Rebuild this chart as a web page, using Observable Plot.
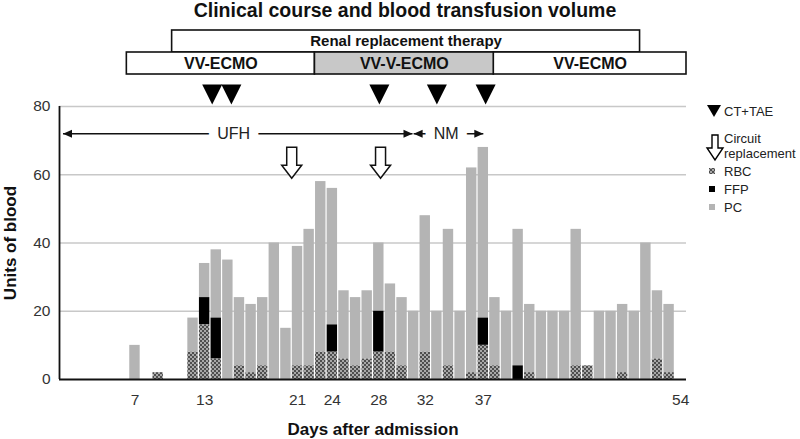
<!DOCTYPE html>
<html><head><meta charset="utf-8">
<script src="https://cdn.jsdelivr.net/npm/d3@7"></script>
<script src="https://cdn.jsdelivr.net/npm/@observablehq/plot@0.6"></script>
<style>
body{margin:0;background:#fff;font-family:"Liberation Sans",Arial,sans-serif;}
#wrap{position:relative;width:800px;height:439px;overflow:hidden;background:#fff}
#title{height:24px;box-sizing:border-box;padding-top:1px;padding-left:10px;text-align:center;font-weight:bold;font-size:19.5px;line-height:19.5px;color:#111;white-space:nowrap}
#header svg,#main svg{display:block}
g[aria-label="y-axis label"] text,g[aria-label="x-axis label"] text{font-weight:bold;font-size:17px;fill:#111}
#legend{position:absolute;left:700px;top:95px}
</style></head>
<body>
<svg width="0" height="0" style="position:absolute">
  <defs>
    <pattern id="rbc" width="4" height="4" patternUnits="userSpaceOnUse">
      <rect width="4" height="4" fill="#a8a8a8"/>
      <rect width="2" height="2" fill="#4e4e4e"/>
      <rect x="2" y="2" width="2" height="2" fill="#4e4e4e"/>
    </pattern>
  </defs>
</svg>
<div id="wrap">
  <div id="title">Clinical course and blood transfusion volume</div>
  <div id="header"></div>
  <div id="main"></div>
  <svg id="legend" width="100" height="125" font-family="Liberation Sans, Arial, sans-serif" font-size="13" fill="#222">
    <polygon points="7,10 21,10 14,22" fill="#000"/>
    <text x="24" y="20.5">CT+TAE</text>
    <polygon points="12,40 18,40 18,53 23,53 15,65 7,53 12,53" fill="#fff" stroke="#000" stroke-width="1.4"/>
    <text x="24" y="48">Circuit</text>
    <text x="24" y="62.5">replacement</text>
    <rect x="9" y="73" width="6" height="6" fill="url(#rbc)"/>
    <text x="24" y="80.5">RBC</text>
    <rect x="9" y="91" width="6" height="6" fill="#000"/>
    <text x="24" y="98.5">FFP</text>
    <rect x="9" y="109" width="6" height="6" fill="#b4b4b4"/>
    <text x="24" y="117">PC</text>
  </svg>
</div>
<script>
// ---- data ----
const days = d3.range(1, 55);
const rbc = [0,0,0,0,0,0,0,0,2,0,0,8,16,6,0,4,2,4,0,0,4,4,8,8,6,4,6,8,8,4,0,8,0,4,0,2,10,4,0,0,2,0,0,0,4,4,0,0,2,0,0,6,2,0];
const ffp = [0,0,0,0,0,0,0,0,0,0,0,0,8,12,0,0,0,0,0,0,0,0,0,8,0,0,0,12,0,0,0,0,0,0,0,0,8,0,0,4,0,0,0,0,0,0,0,0,0,0,0,0,0,0];
const pc  = [0,0,0,0,0,0,10,0,0,0,0,10,10,20,35,20,20,20,40,15,35,40,50,40,20,20,20,20,20,20,20,40,20,40,20,60,50,20,20,40,20,20,20,20,40,0,20,20,20,20,40,20,20,0];
const types = ["RBC", "FFP", "PC"];
const xTicks = [7, 13, 21, 24, 28, 32, 37, 54];
const yTicks = [0, 20, 40, 60, 80];
const ctTaeDays = [13.65, 15.3, 28.05, 33, 37.2];
const circuitDays = [20.5, 28.15];
const ecmoPhases = ["VV-ECMO", "VV-V-ECMO", "VV-ECMO"];
const ecmoStart = [6.3, 22.5, 37.9];
const ecmoEnd = [22.5, 37.9, 54.5];
const rrtLabel = "Renal replacement therapy";
const rrtStart = 10.2, rrtEnd = 50.5;
const anticoagLabels = ["UFH", "NM"];
const anticoagStart = [0.8, 31.0];
const anticoagEnd = [30.9, 37.0];
const anticoagLabelAt = [15.5, 33.8];

// ---- derived tables ----
const series = {RBC: rbc, FFP: ffp, PC: pc};
const rows = [];
days.forEach((day, i) => {
  let base = 0;
  types.forEach(t => {
    const v = series[t][i];
    if (v > 0) rows.push({day, type: t, y1: base, y2: base + v});
    base += v;
  });
});
const ecmo = ecmoPhases.map((p, i) => ({phase: p, start: ecmoStart[i], end: ecmoEnd[i]}));
const rrt = [{label: rrtLabel, start: rrtStart, end: rrtEnd}];
const anticoag = anticoagLabels.map((l, i) => ({label: l, start: anticoagStart[i], end: anticoagEnd[i], at: anticoagLabelAt[i]}));

// ---- symbols ----
const triDown = {draw(c) { c.moveTo(-10, -10); c.lineTo(10, -10); c.lineTo(0, 10); c.closePath(); }};
const blockArrow = {draw(c) { c.moveTo(-5, -15.5); c.lineTo(5, -15.5); c.lineTo(5, 2.5); c.lineTo(10, 2.5); c.lineTo(0, 15.5); c.lineTo(-10, 2.5); c.lineTo(-5, 2.5); c.closePath(); }};
const headL = {draw(c) { c.moveTo(0, 0); c.lineTo(9, -4); c.lineTo(9, 4); c.closePath(); }};
const headR = {draw(c) { c.moveTo(0, 0); c.lineTo(-9, -4); c.lineTo(-9, 4); c.closePath(); }};

const font = "Liberation Sans, Arial, sans-serif";
const xDomain = [0.5, 54.5];

// ---- header (ECMO / RRT) ----
const header = Plot.plot({
  width: 800, height: 56,
  marginLeft: 59, marginRight: 114, marginTop: 6, marginBottom: 6,
  style: {fontFamily: font, background: "white", color: "#111"},
  x: {domain: xDomain, axis: null},
  y: {domain: ["rrt", "ecmo"], axis: null, paddingInner: 0, paddingOuter: 0},
  marks: [
    Plot.barX(rrt, {x1: "start", x2: "end", y: () => "rrt", fill: "white", stroke: "#111", strokeWidth: 1.6}),
    Plot.text(rrt, {x: d => (d.start + d.end) / 2, y: () => "rrt", text: "label", fontWeight: "bold", fontSize: 15}),
    Plot.barX(ecmo.filter(d => d.phase !== "VV-V-ECMO"), {x1: "start", x2: "end", y: () => "ecmo", fill: "white", stroke: "#111", strokeWidth: 1.6}),
    Plot.barX(ecmo.filter(d => d.phase === "VV-V-ECMO"), {x1: "start", x2: "end", y: () => "ecmo", fill: "#c8c8c8", stroke: "#111", strokeWidth: 1.6}),
    Plot.text(ecmo, {x: d => (d.start + d.end) / 2, y: () => "ecmo", text: "phase", fontWeight: "bold", fontSize: 16})
  ]
});
document.getElementById("header").append(header);

// ---- main chart ----
const barOpts = {x1: d => d.day - 0.5, x2: d => d.day + 0.5, y1: "y1", y2: "y2", insetLeft: 0.6, insetRight: 0.6};
const main = Plot.plot({
  width: 800, height: 359,
  marginLeft: 59, marginRight: 114, marginTop: 26, marginBottom: 60,
  style: {fontFamily: font, fontSize: "15.5px", background: "white", color: "#333", overflow: "visible"},
  x: {domain: xDomain, ticks: xTicks, tickSize: 0, tickPadding: 14, label: "Days after admission", labelAnchor: "center", labelOffset: 55, labelArrow: "none"},
  y: {domain: [0, 80], ticks: yTicks, tickSize: 0, tickPadding: 9, label: "Units of blood", labelAnchor: "center", labelOffset: 56, labelArrow: "none"},
  marks: [
    Plot.ruleY(yTicks.filter(v => v > 0), {stroke: "#c8c8c8", strokeWidth: 1.5}),
    Plot.rect(rows.filter(d => d.type === "PC"), {...barOpts, fill: "#b4b4b4"}),
    Plot.rect(rows.filter(d => d.type === "FFP"), {...barOpts, fill: "#000"}),
    Plot.rect(rows.filter(d => d.type === "RBC"), {...barOpts, fill: "url(#rbc)"}),
    Plot.ruleX([0.5], {stroke: "#111", strokeWidth: 1.8}),
    Plot.ruleY([0], {stroke: "#111", strokeWidth: 1.8}),
    // anticoagulation arrows
    Plot.link(anticoag, {x1: "start", x2: "end", y1: () => 72, y2: () => 72, stroke: "#111", strokeWidth: 1.5}),
    Plot.dot(anticoag, {x: "start", y: () => 72, symbol: headL, r: 5, fill: "#111", stroke: "none"}),
    Plot.dot(anticoag, {x: "end", y: () => 72, symbol: headR, r: 5, fill: "#111", stroke: "none"}),
    Plot.text(anticoag, {x: "at", y: () => 72, text: "label", fontSize: 16, fill: "#222", stroke: "white", strokeWidth: 19}),
    // CT+TAE
    Plot.dot(ctTaeDays, {x: d => d, frameAnchor: "top", dy: -12, symbol: triDown, r: 10, fill: "#000", stroke: "none"}),
    // circuit replacement
    Plot.dot(circuitDays, {x: d => d, y: () => 63.5, symbol: blockArrow, r: 10, fill: "white", stroke: "#111", strokeWidth: 1.5})
  ]
});
document.getElementById("main").append(main);
</script>
</body></html>
